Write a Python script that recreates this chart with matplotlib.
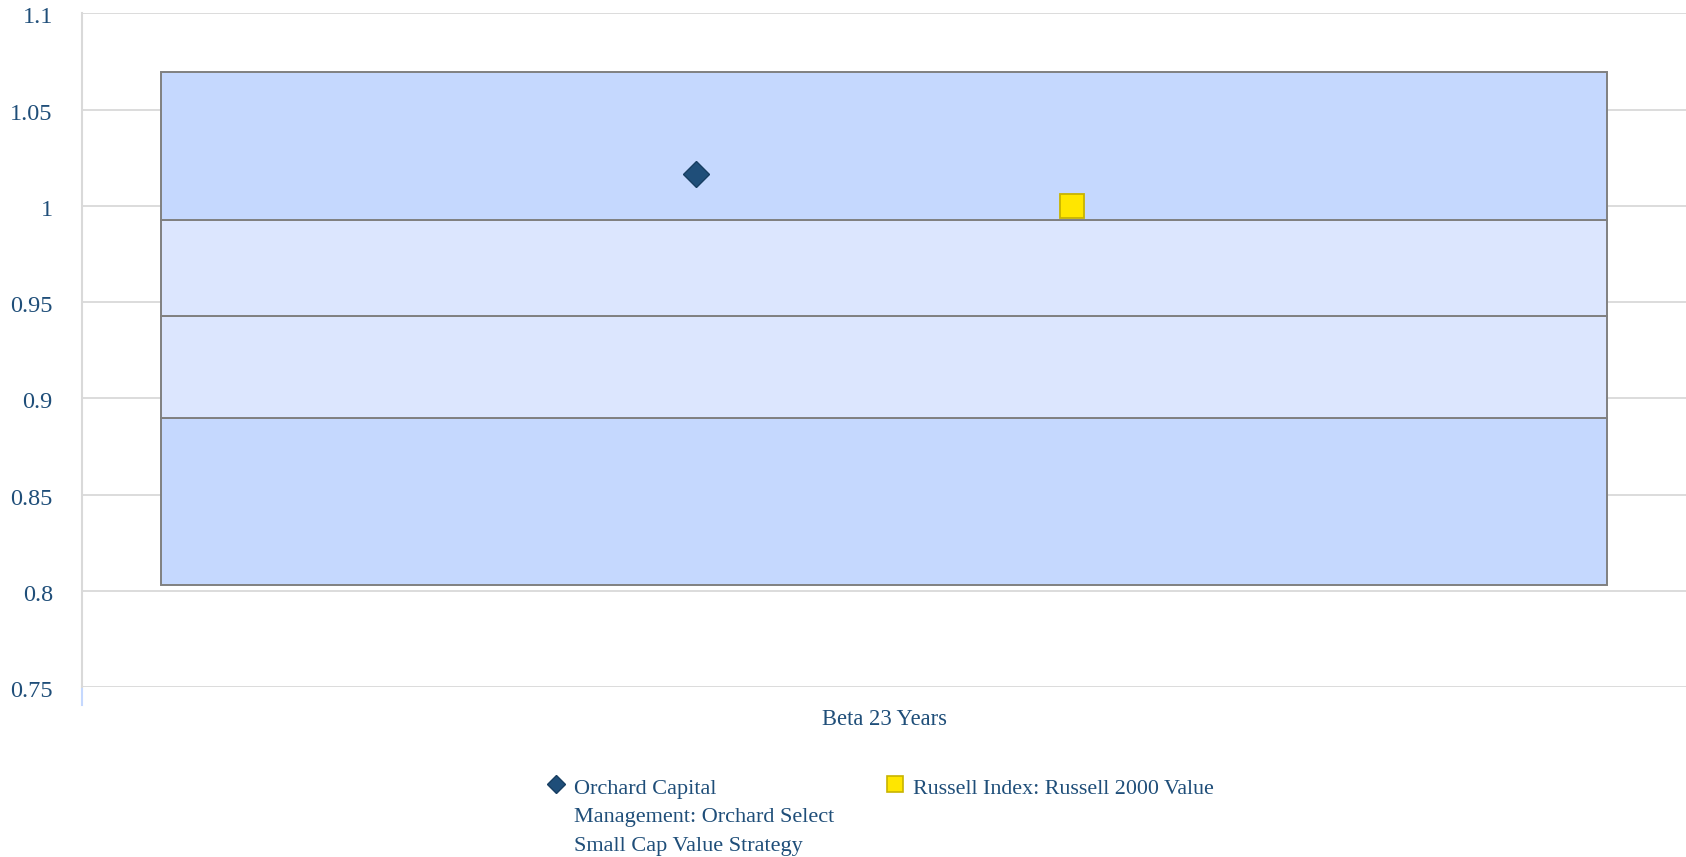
import matplotlib.pyplot as plt
import matplotlib.transforms as mtransforms
from matplotlib.lines import Line2D

# data
categories = ['Beta 23 Years']
band_edges = [0.803, 0.8896, 0.9427, 0.9925, 1.0694]  # 95th, 75th, 50th, 25th, 5th percentile
band_colors = ['#C5D8FE', '#DCE6FE', '#DCE6FE', '#C5D8FE']
orchard_beta = [1.0165]
russell_beta = [1.000]
yticks = [0.75, 0.8, 0.85, 0.9, 0.95, 1.0, 1.05, 1.1]
ytick_labels = ['0.75', '0.8', '0.85', '0.9', '0.95', '1', '1.05', '1.1']
legend_labels = ['Orchard Capital\nManagement: Orchard Select\nSmall Cap Value Strategy',
                 'Russell Index: Russell 2000 Value']

txt_color = '#1F4E79'
plt.rcParams['font.family'] = ['Liberation Serif', 'DejaVu Serif']

fig = plt.figure(figsize=(16.86, 8.57), dpi=100)
ax = fig.add_axes([82/1686, 1-687/857, 1-82/1686, (687-13.5)/857])

# floating percentile bars
for i in range(len(band_edges)-1):
    ax.bar(0, band_edges[i+1]-band_edges[i], bottom=band_edges[i], width=0.902,
           color=band_colors[i], edgecolor='#808080', linewidth=1.4, zorder=2)

ax.plot([-0.117], orchard_beta, marker='D', markersize=13, color='#1F4E79',
        markeredgecolor='#173E62', markeredgewidth=1, linestyle='none', zorder=3)
ax.plot([0.117], russell_beta, marker='s', markersize=17.5, color='#FFE600',
        markeredgecolor='#C8B400', markeredgewidth=1.3, linestyle='none', zorder=3)

ax.set_xlim(-0.5, 0.5)
ax.set_ylim(0.75, 1.1)
ax.set_yticks(yticks)
ax.set_yticklabels(ytick_labels)
ax.set_xticks([0])
ax.set_xticklabels(categories)
ax.tick_params(axis='y', length=0, pad=21, labelsize=17.5, labelcolor=txt_color)
ax.tick_params(axis='x', length=0, pad=16, labelsize=16.3, labelcolor=txt_color)
# nudge the y labels a little below their gridlines
shift = mtransforms.ScaledTranslation(0, -2/100, fig.dpi_scale_trans)
for lab in ax.get_yticklabels():
    lab.set_transform(lab.get_transform() + shift)
ax.grid(axis='y', color='#D9D9D9', linewidth=1.3, zorder=0)
ax.set_axisbelow(True)
for s in ['top', 'right', 'bottom']:
    ax.spines[s].set_visible(False)
ax.spines['left'].set_color('#D9D9D9')
ax.spines['left'].set_linewidth(1.5)
ax.plot([0, 0], [0, -18/673.5], transform=ax.transAxes, color='#C5D8FE',
        linewidth=1.5, clip_on=False)

# legend, drawn by hand
fig.add_artist(Line2D([556/1686], [1-784/857], marker='D', markersize=9,
                      color='#1F4E79', markeredgecolor='#173E62', linestyle='none'))
for k, line in enumerate(legend_labels[0].split('\n')):
    fig.text(574/1686, 1-(794+28.3*k)/857, line, fontsize=16, color=txt_color,
             va='baseline', ha='left')
fig.add_artist(Line2D([894.5/1686], [1-784/857], marker='s', markersize=12,
                      color='#FFE600', markeredgecolor='#C8B400', markeredgewidth=1.2,
                      linestyle='none'))
fig.text(913/1686, 1-794/857, legend_labels[1], fontsize=15.8, color=txt_color,
         va='baseline', ha='left')

fig.savefig('out.png', dpi=100)
